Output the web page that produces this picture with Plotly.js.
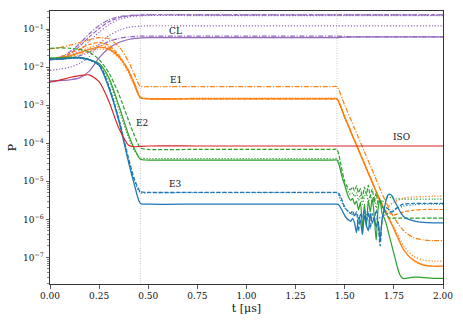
<!DOCTYPE html>
<html>
<head>
<meta charset="utf-8">
<script src="https://cdn.plot.ly/plotly-3.0.1.min.js"></script>
<style>
  body { margin: 0; }
  #pop-plot { width: 463px; height: 324px; }
</style>
</head>
<body>
<div id="pop-plot"></div>
<script>
// time grids (μs): shared head, coarse tail, fine tail for the noisy curves
var tHead = [0, 0.05, 0.1, 0.15, 0.2, 0.25, 0.3, 0.35, 0.4, 0.43, 0.46, 0.5, 0.75, 1.0, 1.25, 1.44];
var tTail = [1.46, 1.5, 1.55, 1.6, 1.65, 1.7, 1.75, 1.8, 1.85, 1.9, 1.95, 2.0];
var tFine = [1.46, 1.47, 1.48, 1.49, 1.5, 1.51, 1.52, 1.53, 1.54, 1.55, 1.56, 1.57, 1.58, 1.59, 1.6,
  1.61, 1.62, 1.63, 1.64, 1.65, 1.66, 1.67, 1.68, 1.69, 1.7, 1.71, 1.72, 1.73, 1.74, 1.75,
  1.76, 1.77, 1.78, 1.79, 1.8, 1.85, 1.9, 1.95, 2.0];

// all populations as log10(P)
// CL (purple)
var clSolidHead = [-2.36, -2.35, -2.33, -2.28, -2.1, -1.75, -1.5, -1.35, -1.27, -1.24, -1.23, -1.22, -1.22, -1.22, -1.22, -1.22];
var clSolidTail = [-1.22, -1.21, -1.2, -1.2, -1.2, -1.2, -1.2, -1.2, -1.2, -1.2, -1.2, -1.2];
var clDotHead = [-2.08, -2.05, -2.0, -1.9, -1.72, -1.4, -1.17, -1.03, -0.95, -0.93, -0.92, -0.91, -0.91, -0.91, -0.91, -0.91];
var clDotTail = [-0.91, -0.91, -0.91, -0.91, -0.91, -0.91, -0.91, -0.91, -0.91, -0.91, -0.91, -0.91];
var clDashDotHead = [-1.8, -1.79, -1.76, -1.7, -1.6, -1.45, -1.32, -1.24, -1.2, -1.19, -1.18, -1.18, -1.18, -1.18, -1.18, -1.18];
var clDashDotTail = [-1.18, -1.19, -1.2, -1.2, -1.2, -1.2, -1.2, -1.2, -1.2, -1.2, -1.2, -1.2];
var clDashHead = [-1.8, -1.76, -1.65, -1.45, -1.2, -0.98, -0.8, -0.7, -0.65, -0.635, -0.63, -0.62, -0.62, -0.62, -0.62, -0.62];
var clDashTail = [-0.62, -0.62, -0.62, -0.62, -0.62, -0.62, -0.62, -0.62, -0.62, -0.62, -0.62, -0.62];
var clDot2Head = [-1.8, -1.77, -1.7, -1.55, -1.32, -1.08, -0.88, -0.75, -0.68, -0.66, -0.65, -0.64, -0.64, -0.64, -0.64, -0.64];
var clDot2Tail = [-0.64, -0.64, -0.64, -0.64, -0.64, -0.64, -0.64, -0.64, -0.64, -0.64, -0.64, -0.64];
var clDashDot2Head = [-1.8, -1.74, -1.6, -1.38, -1.12, -0.9, -0.75, -0.67, -0.64, -0.63, -0.625, -0.62, -0.62, -0.62, -0.62, -0.62];
var clDashDot2Tail = [-0.62, -0.62, -0.62, -0.62, -0.62, -0.62, -0.62, -0.62, -0.62, -0.62, -0.62, -0.62];

// E1 (orange)
var e1SolidHead = [-1.79, -1.75, -1.7, -1.62, -1.53, -1.47, -1.52, -1.72, -2.1, -2.45, -2.8, -2.83, -2.83, -2.83, -2.83, -2.83];
var e1SolidTail = [-2.83, -3.32, -3.93, -4.54, -5.15, -5.72, -6.25, -6.8, -7.08, -7.2, -7.23, -7.23];
var e1DotHead = [-1.79, -1.76, -1.72, -1.66, -1.58, -1.52, -1.55, -1.75, -2.15, -2.5, -2.8, -2.82, -2.82, -2.82, -2.82, -2.82];
var e1DotTail = [-2.82, -3.31, -3.92, -4.53, -5.14, -5.72, -6.2, -6.7, -6.97, -7.07, -7.1, -7.1];
var e1DashDotHead = [-1.52, -1.48, -1.42, -1.35, -1.28, -1.22, -1.25, -1.45, -1.85, -2.2, -2.5, -2.51, -2.51, -2.51, -2.51, -2.51];
var e1DashDotTail = [-2.51, -3.0, -3.61, -4.22, -4.83, -5.44, -5.95, -6.3, -6.48, -6.54, -6.56, -6.56];
var e1DashHead = [-1.79, -1.73, -1.64, -1.52, -1.4, -1.35, -1.42, -1.68, -2.08, -2.42, -2.78, -2.83, -2.83, -2.83, -2.83, -2.83];
var e1DashTail = [-2.83, -3.32, -3.93, -4.54, -5.15, -5.74, -5.88, -5.8, -5.76, -5.74, -5.74, -5.74];
var e1Dot2Head = [-1.79, -1.76, -1.7, -1.6, -1.48, -1.42, -1.48, -1.7, -2.12, -2.48, -2.8, -2.82, -2.82, -2.82, -2.82, -2.82];
var e1Dot2Tail = [-2.82, -3.31, -3.92, -4.53, -5.14, -5.72, -5.55, -5.44, -5.41, -5.4, -5.39, -5.39];

// E2 (green)
var e2SolidHead = [-1.76, -1.75, -1.74, -1.74, -1.8, -1.9, -2.28, -3.0, -3.78, -4.15, -4.42, -4.44, -4.44, -4.44, -4.44, -4.44];
var e2SolidTail = [-4.44, -4.55, -4.75, -4.95, -5.1, -5.28, -5.42, -5.5, -5.45, -5.6, -5.52, -5.75, -5.55, -6.25, -5.6,
  -6.2, -5.5, -5.8, -5.45, -5.9, -6.55, -5.7, -5.5, -5.85, -5.95, -6.1, -6.3, -6.5, -6.7, -6.9,
  -7.1, -7.3, -7.45, -7.53, -7.56, -7.52, -7.53, -7.55, -7.55];
var e2DotHead = [-1.76, -1.75, -1.74, -1.75, -1.82, -1.95, -2.35, -3.1, -3.85, -4.2, -4.38, -4.4, -4.4, -4.4, -4.4, -4.4];
var e2DotTail = [-4.4, -4.5, -4.7, -4.9, -5.05, -5.18, -5.3, -5.35, -5.3, -5.4, -5.3, -5.5, -5.35, -5.6, -5.4,
  -5.3, -5.55, -5.35, -5.6, -5.4, -5.7, -5.5, -5.6, -5.55, -5.5, -5.45, -5.42, -5.42, -5.44, -5.45,
  -5.46, -5.46, -5.46, -5.47, -5.47, -5.47, -5.47, -5.47, -5.47];
var e2DashHead = [-1.5, -1.49, -1.5, -1.53, -1.6, -1.8, -2.15, -2.7, -3.4, -3.8, -4.12, -4.16, -4.16, -4.16, -4.16, -4.16];
var e2DashTail = [-4.16, -4.3, -4.55, -4.8, -5.0, -5.12, -5.2, -5.22, -5.15, -5.25, -5.12, -5.3, -5.2, -5.45, -5.15,
  -5.35, -5.1, -5.4, -5.2, -5.55, -5.3, -5.6, -5.45, -5.65, -5.75, -5.85, -5.93, -5.97, -5.98, -5.97,
  -5.97, -5.97, -5.97, -5.97, -5.97, -5.97, -5.97, -5.97, -5.97];

// E3 (blue)
var e3SolidHead = [-1.79, -1.78, -1.76, -1.75, -1.8, -1.95, -2.55, -3.4, -4.5, -5.1, -5.58, -5.6, -5.6, -5.6, -5.6, -5.6];
var e3SolidTail = [-5.6, -5.62, -5.7, -5.8, -5.9, -5.97, -6.02, -6.05, -5.98, -6.1, -6.35, -5.95, -6.05, -6.4, -5.9,
  -6.15, -6.3, -5.85, -6.1, -5.95, -6.2, -6.05, -6.55, -6.0, -5.75, -5.5, -5.36, -5.34, -5.38, -5.48,
  -5.58, -5.68, -5.78, -5.86, -5.93, -6.04, -6.08, -6.09, -6.09];
var e3DashHead = [-1.79, -1.78, -1.76, -1.75, -1.8, -1.93, -2.5, -3.35, -4.4, -4.95, -5.27, -5.29, -5.29, -5.29, -5.29, -5.29];
var e3DashTail = [-5.29, -5.32, -5.42, -5.55, -5.68, -5.75, -5.8, -5.85, -5.78, -5.92, -5.8, -6.3, -5.85, -5.95, -5.75,
  -6.05, -5.8, -6.25, -5.85, -6.0, -5.75, -6.1, -6.7, -6.0, -5.8, -5.7, -5.72, -5.78, -5.8, -5.78,
  -5.72, -5.68, -5.64, -5.61, -5.6, -5.58, -5.58, -5.58, -5.58];
var e3DotHead = [-1.8, -1.79, -1.77, -1.76, -1.81, -1.96, -2.52, -3.38, -4.45, -5.0, -5.3, -5.3, -5.3, -5.3, -5.3, -5.3];
var e3DotTail = [-5.3, -5.7, -5.9, -5.85, -6.0, -5.9, -5.75, -5.65, -5.62, -5.6, -5.6, -5.6];

// ISO (red)
var isoHead = [-2.39, -2.34, -2.27, -2.22, -2.2, -2.38, -2.9, -3.6, -4.05, -4.09, -4.08, -4.07, -4.07, -4.07, -4.07, -4.07];
var isoTail = [-4.07, -4.07, -4.07, -4.07, -4.07, -4.07, -4.07, -4.07, -4.07, -4.07, -4.07, -4.07];

// pulse edges and state labels
var pulseEdges = [0.46, 1.46];
var labelText = ["CL", "E1", "E2", "ISO", "E3"];
var labelT = [0.64, 0.64, 0.47, 1.79, 0.64];
var labelLogP = [-1.04, -2.33, -3.46, -3.84, -5.08];

var purple = "#9467bd", orange = "#ff7f0e", green = "#2ca02c", blue = "#1f77b4", red = "#d62728";
var dashes = { solid: "solid", dot: "1.2px,1.8px", dash: "4px,1.8px", dashdot: "5px,1.6px,1.2px,1.6px" };

function curve(head, tailT, tail, color, dash, width) {
  var logs = head.concat(tail);
  return {
    x: tHead.concat(tailT),
    y: logs.map(v => Math.pow(10, v)),
    mode: "lines",
    line: { color: color, width: width || 1.2, dash: dashes[dash], shape: "spline", smoothing: 0.7 },
    hoverinfo: "skip"
  };
}

var data = [
  curve(clSolidHead, tTail, clSolidTail, purple, "solid"),
  curve(clDotHead, tTail, clDotTail, purple, "dot"),
  curve(clDashDotHead, tTail, clDashDotTail, purple, "dashdot"),
  curve(clDashHead, tTail, clDashTail, purple, "dash"),
  curve(clDot2Head, tTail, clDot2Tail, purple, "dot"),
  curve(clDashDot2Head, tTail, clDashDot2Tail, purple, "dashdot"),
  curve(e1SolidHead, tTail, e1SolidTail, orange, "solid", 1.4),
  curve(e1DotHead, tTail, e1DotTail, orange, "dot"),
  curve(e1DashDotHead, tTail, e1DashDotTail, orange, "dashdot"),
  curve(e1DashHead, tTail, e1DashTail, orange, "dash"),
  curve(e1Dot2Head, tTail, e1Dot2Tail, orange, "dot"),
  curve(e2SolidHead, tFine, e2SolidTail, green, "solid"),
  curve(e2DotHead, tFine, e2DotTail, green, "dot"),
  curve(e2DashHead, tFine, e2DashTail, green, "dash"),
  curve(e3SolidHead, tFine, e3SolidTail, blue, "solid", 1.3),
  curve(e3DashHead, tFine, e3DashTail, blue, "dash", 1.3),
  curve(e3DotHead, tTail, e3DotTail, blue, "dot"),
  curve(isoHead, tTail, isoTail, red, "solid")
];

var majorVals = [], majorText = [], minorVals = [];
for (var e = -7; e <= -1; e++) {
  majorVals.push(Math.pow(10, e));
  majorText.push("10<sup>\u2212" + (-e) + "</sup>");
}
for (var d = -8; d <= -1; d++) {
  for (var m = 2; m <= 9; m++) minorVals.push(m * Math.pow(10, d));
}

var axisStyle = {
  showline: true, linecolor: "#333", linewidth: 1, mirror: true,
  showgrid: false, zeroline: false,
  ticks: "outside", ticklen: 3.5, tickwidth: 0.8, tickcolor: "#333",
  tickfont: { family: "DejaVu Serif", size: 9, color: "#111" }
};

var layout = {
  width: 463, height: 324,
  margin: { l: 50, r: 20, t: 11, b: 40 },
  paper_bgcolor: "white", plot_bgcolor: "white",
  font: { family: "DejaVu Serif", color: "#111" },
  showlegend: false,
  xaxis: Object.assign({}, axisStyle, {
    range: [0, 2], dtick: 0.25, tick0: 0, tickformat: ".2f",
    title: { text: "t [μs]", font: { family: "DejaVu Serif", size: 11 }, standoff: 4 }
  }),
  yaxis: Object.assign({}, axisStyle, {
    type: "log", range: [-7.7, -0.52],
    tickmode: "array", tickvals: majorVals, ticktext: majorText,
    minor: { tickmode: "array", tickvals: minorVals, ticks: "outside", ticklen: 2, tickwidth: 0.6, tickcolor: "#333" },
    title: { text: "P", font: { family: "DejaVu Serif", size: 11 }, standoff: 4 }
  }),
  shapes: pulseEdges.map(t => ({
    type: "line", xref: "x", yref: "paper", x0: t, x1: t, y0: 0, y1: 1,
    line: { color: "#bbb", width: 0.8, dash: "1px,1.5px" }, layer: "below"
  })),
  annotations: labelText.map((s, i) => ({
    x: labelT[i], y: labelLogP[i], xref: "x", yref: "y", text: s,
    showarrow: false, font: { family: "DejaVu Serif", size: 9, color: "#111" }
  }))
};

Plotly.newPlot("pop-plot", data, layout, { displayModeBar: false, staticPlot: true });
</script>
</body>
</html>
